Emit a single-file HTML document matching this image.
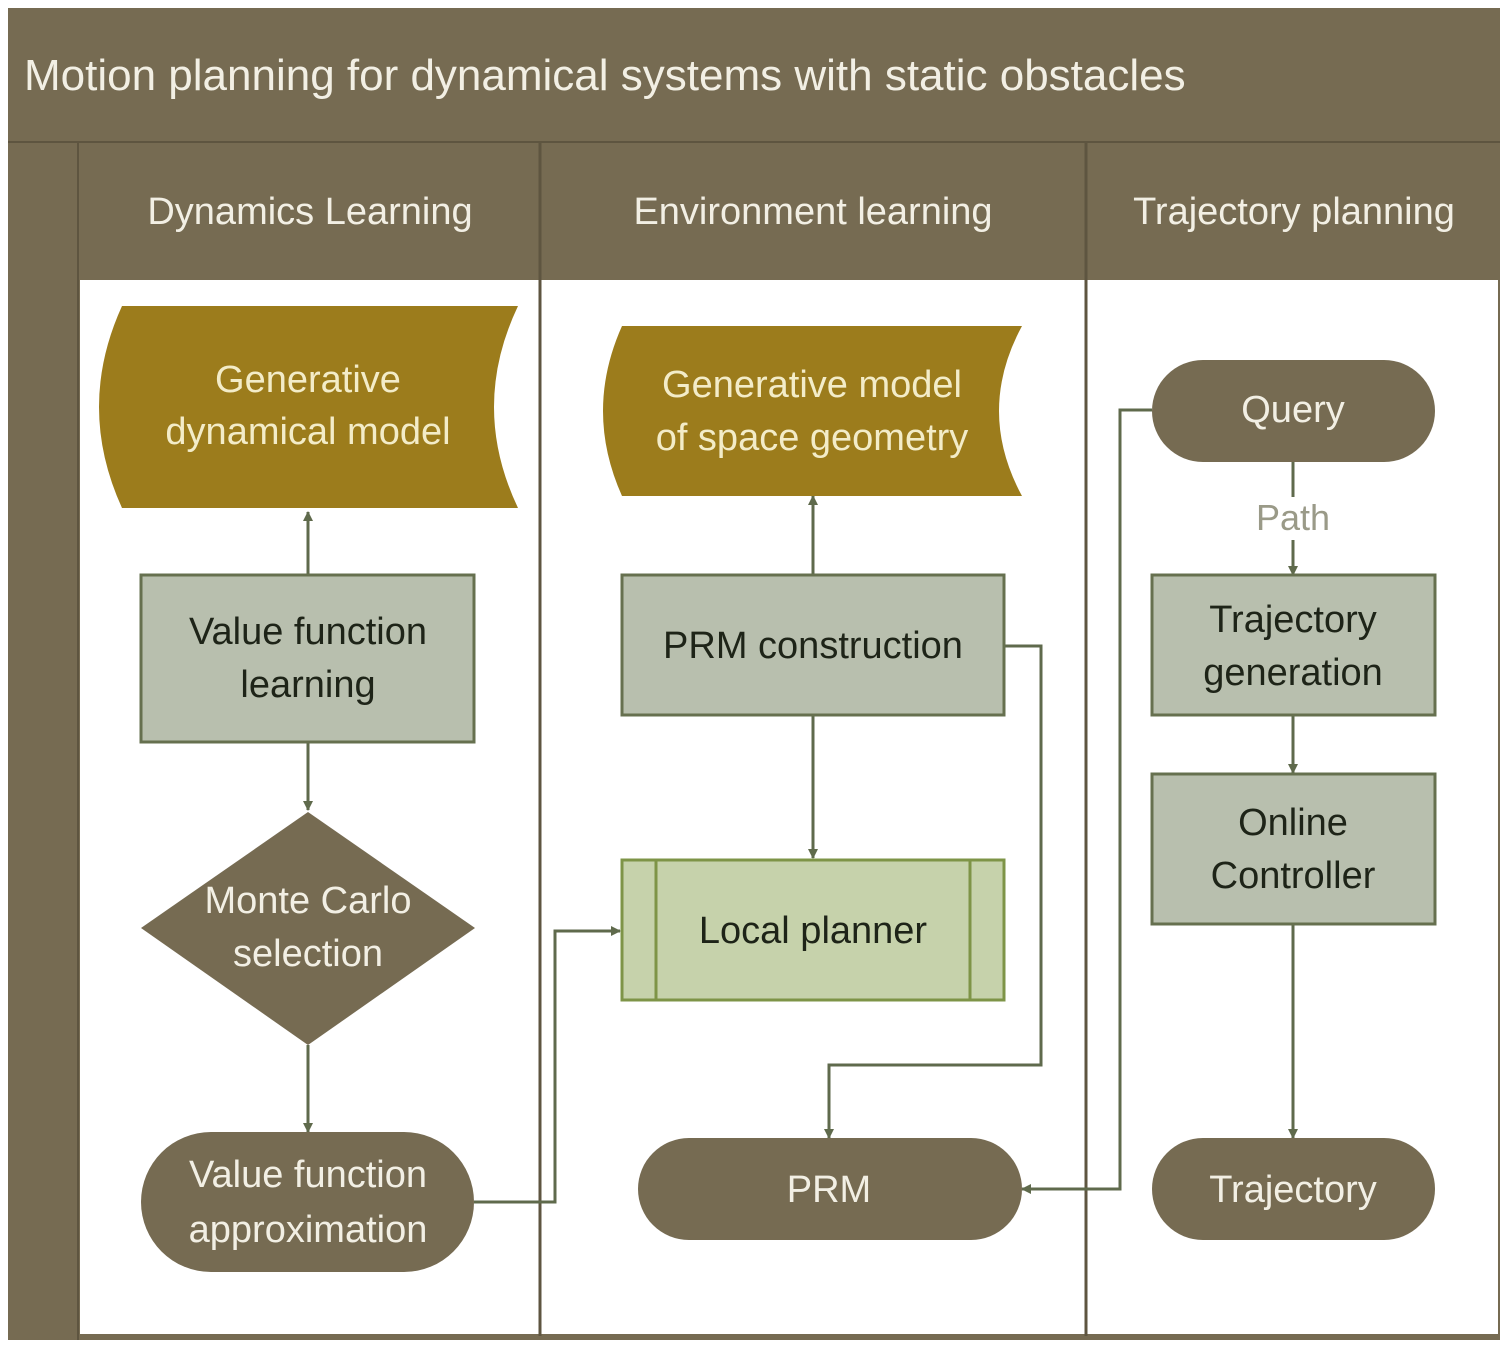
<!DOCTYPE html>
<html><head><meta charset="utf-8"><style>
html,body{margin:0;padding:0;background:#fff;}
svg{display:block;font-family:"Liberation Sans",sans-serif;}
</style></head><body>
<svg width="1510" height="1350" viewBox="0 0 1510 1350" xmlns="http://www.w3.org/2000/svg">
<defs>
<marker id="a" markerWidth="10" markerHeight="10" refX="9" refY="5" orient="auto" markerUnits="userSpaceOnUse" viewBox="0 0 10 10">
<path d="M0,0 L10,5 L0,10 z" fill="#5f6a4c"/></marker>
</defs>
<rect x="0" y="0" width="1510" height="1350" fill="#fff"/>
<!-- frame -->
<rect x="8" y="8" width="1492" height="1332" fill="#766b52"/>
<rect x="80" y="280" width="1418" height="1054" fill="#fff"/>
<line x1="8" y1="142" x2="1500" y2="142" stroke="#5e5540" stroke-width="2"/>
<line x1="78" y1="142" x2="78" y2="1340" stroke="#5e5540" stroke-width="2"/>
<line x1="540" y1="142" x2="540" y2="1336" stroke="#5e5540" stroke-width="3"/>
<line x1="1086" y1="142" x2="1086" y2="1336" stroke="#5e5540" stroke-width="3"/>
<text x="24" y="90" font-size="44" fill="#f2efe4">Motion planning for dynamical systems with static obstacles</text>
<text x="310" y="224" font-size="38" fill="#f2efe4" text-anchor="middle">Dynamics Learning</text>
<text x="813" y="224" font-size="38" fill="#f2efe4" text-anchor="middle">Environment learning</text>
<text x="1294" y="224" font-size="38" fill="#f2efe4" text-anchor="middle">Trajectory planning</text>

<!-- connectors -->
<g stroke="#5f6a4c" stroke-width="3" fill="none">
<line x1="308" y1="575" x2="308" y2="512" marker-end="url(#a)"/>
<line x1="308" y1="742" x2="308" y2="810" marker-end="url(#a)"/>
<line x1="308" y1="1045" x2="308" y2="1132" marker-end="url(#a)"/>
<polyline points="474,1202 555,1202 555,931 620,931" marker-end="url(#a)"/>
<line x1="813" y1="575" x2="813" y2="496" marker-end="url(#a)"/>
<line x1="813" y1="716" x2="813" y2="858" marker-end="url(#a)"/>
<polyline points="1004,646 1041,646 1041,1065 829,1065 829,1138" marker-end="url(#a)"/>
<polyline points="1152,410 1120,410 1120,1189 1022,1189" marker-end="url(#a)"/>
<line x1="1293" y1="462" x2="1293" y2="497"/>
<line x1="1293" y1="540" x2="1293" y2="575" marker-end="url(#a)"/>
<line x1="1293" y1="716" x2="1293" y2="773" marker-end="url(#a)"/>
<line x1="1293" y1="924" x2="1293" y2="1138" marker-end="url(#a)"/>
</g>

<!-- gold doc shapes -->
<path d="M122,306 L518,306 Q470,407 518,508 L122,508 Q76,407 122,306 z" fill="#9c7c1c"/>
<text font-size="38" fill="#f3ecc8" text-anchor="middle"><tspan x="308" y="392">Generative</tspan><tspan x="308" y="444">dynamical model</tspan></text>
<path d="M622,326 L1022,326 Q976,411 1022,496 L622,496 Q584,411 622,326 z" fill="#9c7c1c"/>
<text font-size="38" fill="#f3ecc8" text-anchor="middle"><tspan x="812" y="397">Generative model</tspan><tspan x="812" y="450">of space geometry</tspan></text>

<!-- boxes -->
<rect x="141" y="575" width="333" height="167" fill="#b8bfae" stroke="#66704f" stroke-width="3"/>
<text font-size="38" fill="#1e2418" text-anchor="middle"><tspan x="308" y="644">Value function</tspan><tspan x="308" y="697">learning</tspan></text>
<polygon points="308,812 475,928 308,1045 141,928" fill="#766b52"/>
<text font-size="38" fill="#f2efe4" text-anchor="middle"><tspan x="308" y="913">Monte Carlo</tspan><tspan x="308" y="966">selection</tspan></text>
<rect x="141" y="1132" width="333" height="140" rx="70" fill="#766b52"/>
<text font-size="38" fill="#f2efe4" text-anchor="middle"><tspan x="308" y="1187">Value function</tspan><tspan x="308" y="1242">approximation</tspan></text>

<rect x="622" y="575" width="382" height="140" fill="#b8bfae" stroke="#66704f" stroke-width="3"/>
<text x="813" y="658" font-size="38" fill="#1e2418" text-anchor="middle">PRM construction</text>
<rect x="622" y="860" width="382" height="140" fill="#c6d2ab" stroke="#7e9447" stroke-width="3"/>
<line x1="656" y1="860" x2="656" y2="1000" stroke="#7e9447" stroke-width="3"/>
<line x1="970" y1="860" x2="970" y2="1000" stroke="#7e9447" stroke-width="3"/>
<text x="813" y="943" font-size="38" fill="#1e2418" text-anchor="middle">Local planner</text>
<rect x="638" y="1138" width="384" height="102" rx="51" fill="#766b52"/>
<text x="829" y="1202" font-size="38" fill="#f2efe4" text-anchor="middle">PRM</text>

<rect x="1152" y="360" width="283" height="102" rx="51" fill="#766b52"/>
<text x="1293" y="422" font-size="38" fill="#f2efe4" text-anchor="middle">Query</text>
<text x="1293" y="530" font-size="36" fill="#9a9a88" text-anchor="middle">Path</text>
<rect x="1152" y="575" width="283" height="140" fill="#b8bfae" stroke="#66704f" stroke-width="3"/>
<text font-size="38" fill="#1e2418" text-anchor="middle"><tspan x="1293" y="632">Trajectory</tspan><tspan x="1293" y="685">generation</tspan></text>
<rect x="1152" y="774" width="283" height="150" fill="#b8bfae" stroke="#66704f" stroke-width="3"/>
<text font-size="38" fill="#1e2418" text-anchor="middle"><tspan x="1293" y="835">Online</tspan><tspan x="1293" y="888">Controller</tspan></text>
<rect x="1152" y="1138" width="283" height="102" rx="51" fill="#766b52"/>
<text x="1293" y="1202" font-size="38" fill="#f2efe4" text-anchor="middle">Trajectory</text>
</svg>
</body></html>
